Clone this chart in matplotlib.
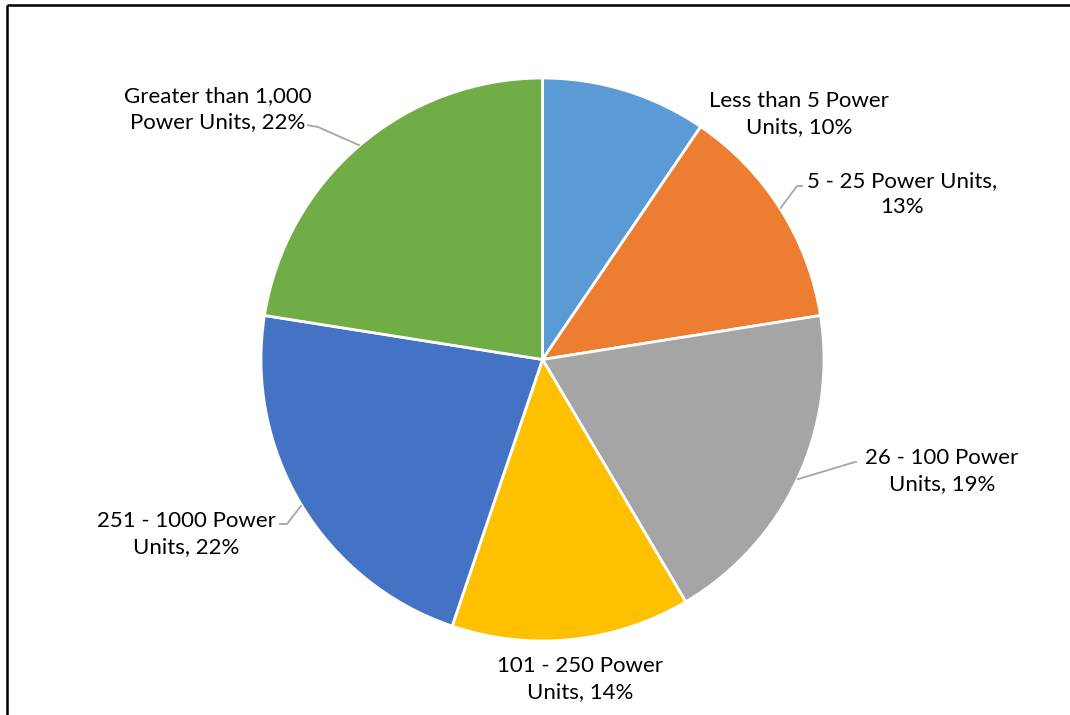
import numpy as np
import matplotlib.pyplot as plt

# slice data (clockwise from 12 o'clock)
categories = ["Less than 5 Power Units", "5 - 25 Power Units", "26 - 100 Power Units",
              "101 - 250 Power Units", "251 - 1000 Power Units", "Greater than 1,000 Power Units"]
shares = [9.5, 13.0, 19.0, 13.7, 22.3, 22.5]
pct_labels = ["10%", "13%", "19%", "14%", "22%", "22%"]
label_text = ["Less than 5 Power\nUnits, 10%",
              "5 - 25 Power Units,\n13%",
              "26 - 100 Power\nUnits, 19%",
              "101 - 250 Power\nUnits, 14%",
              "251 - 1000 Power\nUnits, 22%",
              "Greater than 1,000\nPower Units, 22%"]
colors = ["#5B9BD5", "#ED7D31", "#A5A5A5", "#FFC000", "#4472C4", "#70AD47"]

W, H = 1070, 715
CX, CY, R = 542.5, 359.5, 281.5

# label block centres in pixel coords (top-left origin), and leader elbow (None = no leader)
label_pos = [(799, 114), (902, 194), (942, 471), (580, 679), (186, 534), (218, 109)]
elbows = [None, [(803, 186), (797, 186)], [(857, 462), (855, 462)], None,
          [(279, 524), (287, 524)], [(307, 125), (318, 127)]]

plt.rcParams["font.family"] = ["Lato", "DejaVu Sans"]

fig = plt.figure(figsize=(W / 100, H / 100), dpi=100)
ax = fig.add_axes([0, 0, 1, 1])
ax.set_xlim(0, W)
ax.set_ylim(0, H)
ax.axis("off")


def py(y):
    return H - y


ax.pie(shares, colors=colors, startangle=90, counterclock=False,
       center=(CX, py(CY)), radius=R, normalize=True,
       wedgeprops=dict(edgecolor="white", linewidth=2.0))
ax.set_xlim(0, W)
ax.set_ylim(0, H)
ax.set_aspect("auto")

cum = np.cumsum([0] + shares)
total = cum[-1]
for i, txt in enumerate(label_text):
    lx, ly = label_pos[i]
    ax.text(lx, py(ly), txt, ha="center", va="center", fontsize=16,
            color="#000000", linespacing=1.42)
    if elbows[i] is not None:
        mid = (cum[i] + cum[i + 1]) / 2 / total * 2 * np.pi
        ex = CX + R * np.sin(mid)
        ey = CY - R * np.cos(mid)
        xs = [p[0] for p in elbows[i]] + [ex]
        ys = [py(p[1]) for p in elbows[i]] + [py(ey)]
        ax.plot(xs, ys, color="#A6A6A6", linewidth=1.3, solid_capstyle="butt")

# outer frame (only left and top edges fall inside the image)
ax.plot([7, 7], [py(4.5), 0], color="black", linewidth=1.8, solid_capstyle="butt")
ax.plot([7, W], [py(4.5), py(4.5)], color="black", linewidth=1.8, solid_capstyle="butt")

fig.savefig("out.png", dpi=100)
